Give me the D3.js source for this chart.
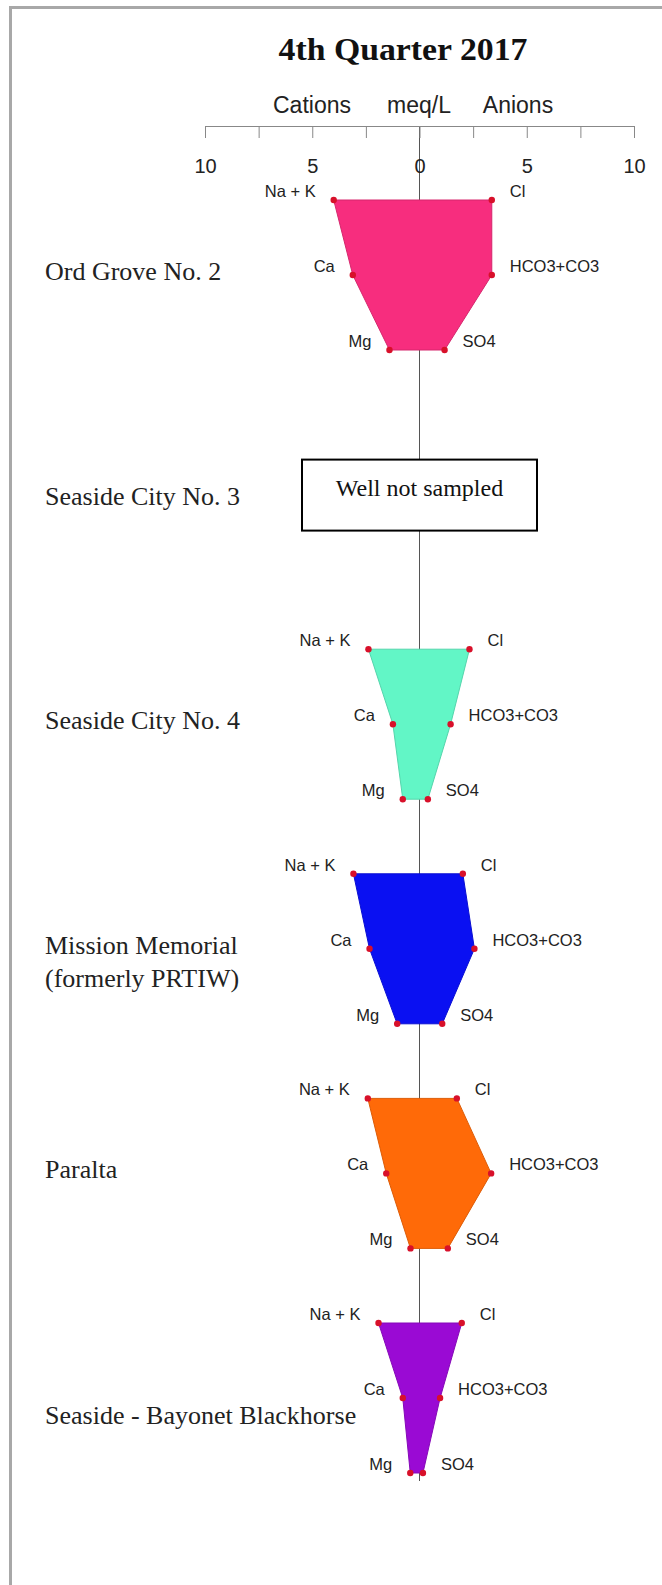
<!DOCTYPE html>
<html>
<head>
<meta charset="utf-8">
<script src="https://cdn.jsdelivr.net/npm/d3@7"></script>
<style>
html,body{margin:0;padding:0;background:#fff;}
svg{display:block;}
</style>
</head>
<body>
<svg id="chart" width="662" height="1585"></svg>
<script>
// ---- data ----
const title = "4th Quarter 2017";
const wells = ["Ord Grove No. 2", "Seaside City No. 3", "Seaside City No. 4", "Mission Memorial\n(formerly PRTIW)", "Paralta", "Seaside - Bayonet Blackhorse"];
const sampled = [true, false, true, true, true, true];
// cations (meq/L)
const naK = [4.00, null, 2.38, 3.08, 2.41, 1.91];
const ca  = [3.11, null, 1.24, 2.33, 1.55, 0.78];
const mg  = [1.40, null, 0.78, 1.04, 0.42, 0.43];
// anions (meq/L)
const cl   = [3.37, null, 2.33, 2.02, 1.74, 1.97];
const hco3 = [3.37, null, 1.45, 2.56, 3.34, 0.96];
const so4  = [1.17, null, 0.39, 1.06, 1.32, 0.16];
const cationLabels = ["Na + K", "Ca", "Mg"];
const anionLabels = ["Cl", "HCO3+CO3", "SO4"];
const tickValues = [-10, -7.5, -5, -2.5, 0, 2.5, 5, 7.5, 10];
const tickLabels = {"-10": "10", "-5": "5", "0": "0", "5": "5", "10": "10"};
const axisTitles = ["Cations", "meq/L", "Anions"];
const notSampledText = "Well not sampled";
const palette = ["#F72D7E", null, "#62F6C6", "#0A10F2", "#FF6A08", "#9A0AD4"];

// ---- layout ----
const svg = d3.select("#chart");
const x = d3.scaleLinear().domain([-10, 10]).range([205, 634]);
const yWell = d3.scalePoint().domain(d3.range(wells.length)).range([200, 1323]);
const yIon = d3.scalePoint().domain([0, 1, 2]).range([0, 150]);
const axisY = 126;

// page frame
svg.append("line").attr("x1", 9).attr("x2", 662).attr("y1", 7.5).attr("y2", 7.5)
  .attr("stroke", "#a8a8a8").attr("stroke-width", 3);
svg.append("line").attr("x1", 10.5).attr("x2", 10.5).attr("y1", 6).attr("y2", 1585)
  .attr("stroke", "#a8a8a8").attr("stroke-width", 3);

// title
svg.append("text").attr("x", 403).attr("y", 60).attr("text-anchor", "middle")
  .attr("font-family", "'Liberation Serif', serif").attr("font-weight", "bold")
  .attr("font-size", 31).attr("textLength", 249).attr("lengthAdjust", "spacingAndGlyphs")
  .attr("fill", "#111").text(title);

// axis titles
const axisTitleX = [312, 419, 518];
svg.selectAll("text.axt").data(axisTitles).join("text").attr("class", "axt")
  .attr("x", (d, i) => axisTitleX[i]).attr("y", 113).attr("text-anchor", "middle")
  .attr("font-family", "'Liberation Sans', Arial, sans-serif").attr("font-size", 23)
  .attr("fill", "#222").text(d => d);

// center line (under everything)
svg.append("line").attr("x1", x(0)).attr("x2", x(0)).attr("y1", axisY).attr("y2", 1481)
  .attr("stroke", "#555").attr("stroke-width", 1);

// axis
const axis = d3.axisBottom(x).tickValues(tickValues)
  .tickFormat(d => tickLabels[String(d)] || "").tickSize(12).tickSizeOuter(0).tickPadding(21);
const gAxis = svg.append("g").attr("transform", `translate(0,${axisY})`).call(axis);
gAxis.select(".domain").attr("stroke", "#888");
gAxis.selectAll(".tick line").attr("stroke", "#888");
gAxis.selectAll(".tick text").attr("font-family", "'Liberation Sans', Arial, sans-serif")
  .attr("font-size", 20).attr("fill", "#222");

// well labels
wells.forEach((w, i) => {
  const lines = w.split("\n");
  const base = yWell(i) + yIon(1) + (i === 5 ? 26 : 5);
  const t = svg.append("text").attr("font-family", "'Liberation Serif', serif")
    .attr("font-size", 26).attr("fill", "#222");
  lines.forEach((ln, k) => {
    t.append("tspan").attr("x", 45).attr("y", base + k * 33).text(ln);
  });
});

// stiff polygons
const cat = [naK, ca, mg];
const ani = [cl, hco3, so4];
wells.forEach((w, i) => {
  const y0 = yWell(i);
  if (!sampled[i]) {
    const g = svg.append("g");
    g.append("rect").attr("width", 235).attr("height", 71)
      .attr("x", x(0) - 117.5).attr("y", y0 + yIon(1) - 40)
      .attr("fill", "#fff").attr("stroke", "#000").attr("stroke-width", 2);
    g.append("text").attr("x", x(0)).attr("y", y0 + yIon(1) - 4).attr("text-anchor", "middle")
      .attr("font-family", "'Liberation Serif', serif").attr("font-size", 24)
      .attr("fill", "#111").text(notSampledText);
    return;
  }
  const pts = [];
  [0, 1, 2].forEach(k => pts.push([x(ani[k][i]), y0 + yIon(k)]));
  [2, 1, 0].forEach(k => pts.push([x(-cat[k][i]), y0 + yIon(k)]));
  const fill = palette[i];
  svg.append("path").attr("d", d3.line()(pts) + "Z")
    .attr("fill", fill).attr("stroke", d3.color(fill).darker(0.4)).attr("stroke-width", 1);
  // points
  const dots = [];
  [0, 1, 2].forEach(k => {
    dots.push({x: x(-cat[k][i]), y: y0 + yIon(k), label: cationLabels[k], side: -1});
    dots.push({x: x(ani[k][i]), y: y0 + yIon(k), label: anionLabels[k], side: 1});
  });
  svg.append("g").selectAll("circle").data(dots).join("circle")
    .attr("cx", d => d.x).attr("cy", d => d.y).attr("r", 3.2).attr("fill", "#D8102A");
  svg.append("g").selectAll("text").data(dots).join("text")
    .attr("x", d => d.x + d.side * 18).attr("y", d => d.y - 3)
    .attr("text-anchor", d => d.side < 0 ? "end" : "start")
    .attr("font-family", "'Liberation Sans', Arial, sans-serif").attr("font-size", 16.5)
    .attr("fill", "#222").text(d => d.label);
});
</script>
</body>
</html>
